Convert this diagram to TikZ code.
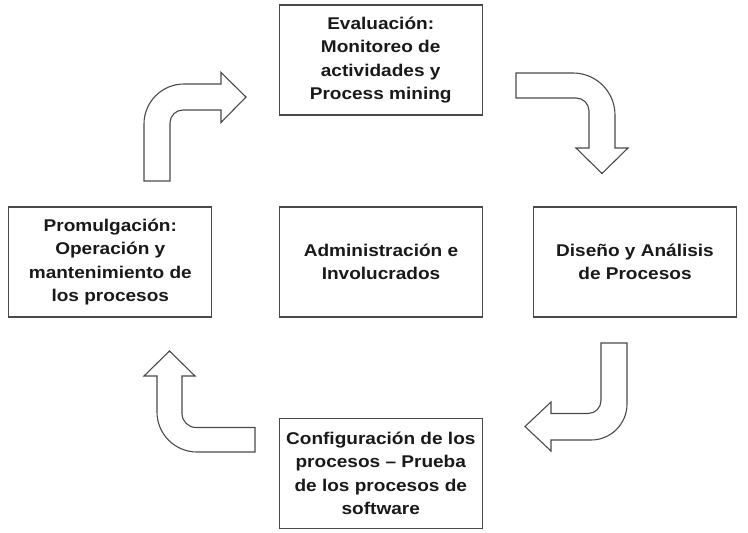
\documentclass[tikz,border=0pt]{standalone}
\usepackage{fontspec}
\setmainfont{Liberation Sans}
\newfontfamily\boxfont[FakeStretch=1.12]{Liberation Sans}
\definecolor{edgegray}{HTML}{4A4A4A}
\begin{document}
\begin{tikzpicture}[x=1pt,y=-1pt,
  box/.style={draw=edgegray, line width=1.3pt, minimum width=203pt, minimum height=110pt,
    align=center, inner sep=0pt,
    font=\boxfont\bfseries\fontsize{17}{23.5}\selectfont, text=black!90},
  blockarrow/.style={draw=edgegray, line width=1.1pt, fill=white, line join=miter}]
\useasboundingbox (0,0) rectangle (748,533);
\node[box] (eval) at (380.7,60) {Evaluación:\\Monitoreo de\\actividades y\\Process mining};
\node[box] (prom) at (110.3,262) {Promulgación:\\Operación y\\mantenimiento de\\los procesos};
\node[box] (admin) at (381,262) {Administración e\\Involucrados};
\node[box] (dis) at (635,262) {Diseño y Análisis\\de Procesos};
\node[box] (conf) at (380.8,473.3) {Configuración de los\\procesos – Prueba\\de los procesos de\\software};
% top-left arrow
\draw[blockarrow] (144,181) -- (144,124) .. controls (144,101.9) and (161.9,84) .. (184,84)
  -- (221,84) -- (221,72.5) -- (246,97) -- (221,122.5) -- (221,110) -- (183,110)
  .. controls (175.8,110) and (170,115.8) .. (170,123) -- (170,181) -- cycle;
% top-right arrow
\draw[blockarrow] (516,73) -- (573,73) .. controls (596.2,73) and (615,91.8) .. (615,115)
  -- (615,148) -- (628,148) -- (602,173.5) -- (576,148) -- (589,148) -- (589,111)
  .. controls (589,103.8) and (583.2,98) .. (576,98) -- (516,98) -- cycle;
% bottom-right arrow
\draw[blockarrow] (601,343) -- (627,343) -- (627,404) .. controls (627,423.9) and (610.9,440) .. (591,440)
  -- (551,440) -- (551,451) -- (525,426.5) -- (551,402) -- (551,413.5) -- (588,413.5)
  .. controls (595.2,413.5) and (601,407.7) .. (601,400.5) -- cycle;
% bottom-left arrow
\draw[blockarrow] (255,427.5) -- (196,427.5) .. controls (188.3,427.5) and (182,421.2) .. (182,413.5)
  -- (182,376) -- (195,376) -- (169.5,351) -- (144,376) -- (157,376) -- (157,412)
  .. controls (157,434.1) and (174.9,452) .. (197,452) -- (255,452) -- cycle;
\end{tikzpicture}
\end{document}
